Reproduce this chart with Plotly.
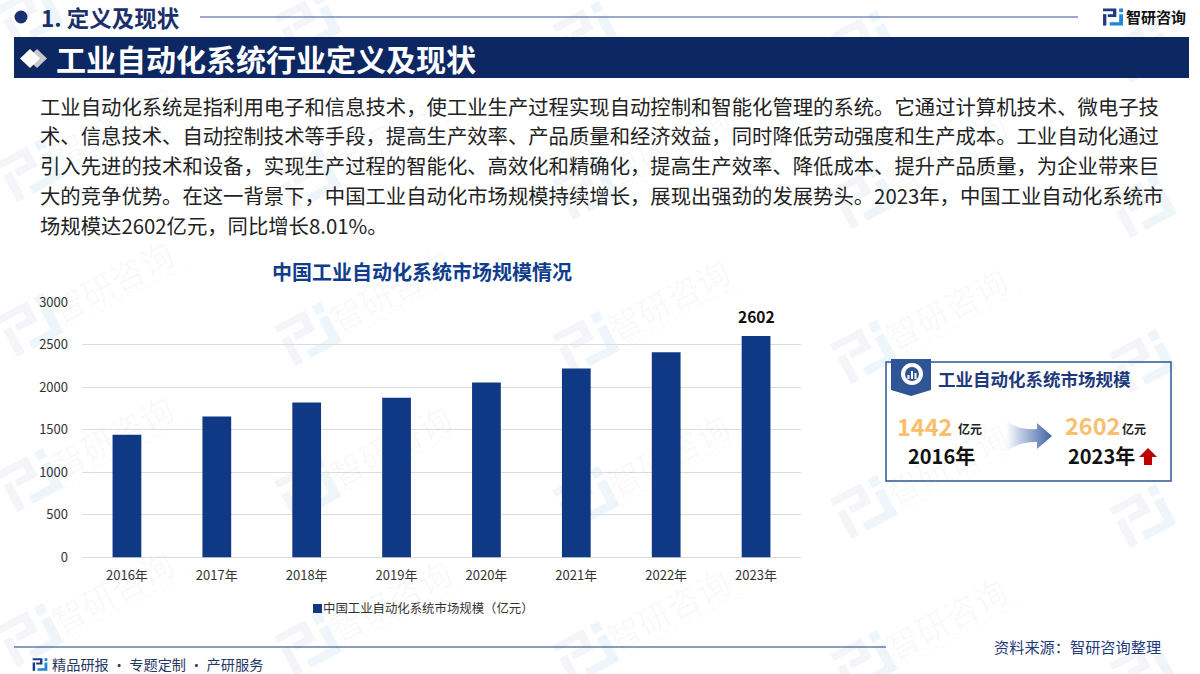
import base64, math
import plotly.graph_objects as go

years = ["2016年", "2017年", "2018年", "2019年", "2020年", "2021年", "2022年", "2023年"]
market_size = [1442, 1655, 1820, 1875, 2055, 2220, 2409, 2602]
bar_labels = ["", "", "", "", "", "", "", "2602"]
y_ticks = [0, 500, 1000, 1500, 2000, 2500, 3000]
series_name = "中国工业自动化系统市场规模（亿元）"
chart_title = "中国工业自动化系统市场规模情况"
body_lines = [
    "工业自动化系统是指利用电子和信息技术，使工业生产过程实现自动控制和智能化管理的系统。它通过计算机技术、微电子技",
    "术、信息技术、自动控制技术等手段，提高生产效率、产品质量和经济效益，同时降低劳动强度和生产成本。工业自动化通过",
    "引入先进的技术和设备，实现生产过程的智能化、高效化和精确化，提高生产效率、降低成本、提升产品质量，为企业带来巨",
    "大的竞争优势。在这一背景下，中国工业自动化市场规模持续增长，展现出强劲的发展势头。2023年，中国工业自动化系统市",
    "场规模达2602亿元，同比增长8.01%。",
]
body_y = [106, 135, 165, 195, 225]
body_size = 20.35

W, H = 1200, 674
FONT = "Noto Sans CJK SC"
BAR = "#0F3885"
BLUE = "#2F5597"

def px(x):
    return x / W

def py(y):
    return 1 - y / H

shapes = []
annotations = []

def poly(points, fill, layer="below"):
    d = "M" + " L".join(f"{px(x):.5f},{py(y):.5f}" for x, y in points) + " Z"
    shapes.append(dict(type="path", xref="paper", yref="paper", path=d, fillcolor=fill,
                       line=dict(width=0), layer=layer))

def rect(x0, y0, x1, y1, fill=None, line=None, lw=0, layer="below"):
    shapes.append(dict(type="rect", xref="paper", yref="paper", x0=px(x0), x1=px(x1),
                       y0=py(y0), y1=py(y1), fillcolor=fill or "rgba(0,0,0,0)",
                       line=dict(color=line or "rgba(0,0,0,0)", width=lw), layer=layer))

def hline(x0, x1, y, color, lw):
    shapes.append(dict(type="line", xref="paper", yref="paper", x0=px(x0), x1=px(x1),
                       y0=py(y), y1=py(y), line=dict(color=color, width=lw), layer="below"))

def circle(cx, cy, r, fill, layer="below"):
    shapes.append(dict(type="circle", xref="paper", yref="paper", x0=px(cx - r), x1=px(cx + r),
                       y0=py(cy - r), y1=py(cy + r), fillcolor=fill, line=dict(width=0), layer=layer))

def text(x, y, s, size, color, bold=False, anchor="center", angle=0):
    if anchor == "left":
        x -= 3  # annotation box padding
    annotations.append(dict(xref="paper", yref="paper", x=px(x), y=py(y), text=f"<b>{s}</b>" if bold else s,
                            showarrow=False, xanchor=anchor, yanchor="middle", textangle=angle,
                            font=dict(family=FONT, size=size, color=color)))

# brand mark, local coordinates roughly 22 x 18 units
DARK_PARTS = [
    [(0, 0), (14, 0), (14, 9), (5, 9), (5, 6), (10.5, 6), (10.5, 3), (0, 3)],
    [(0, 6), (3.5, 6), (3.5, 18), (0, 18)],
]
LIGHT_PARTS = [
    [(17, 0), (21, 0), (21, 4), (17, 4)],
    [(17, 6), (21, 6), (21, 18), (7, 18), (7, 14.5), (17, 14.5)],
]

def brand(cx, cy, scale, dark, light, angle=0.0):
    a = math.radians(angle)
    def tr(p):
        x, y = (p[0] - 10.5) * scale, (p[1] - 9) * scale
        return cx + x * math.cos(a) + y * math.sin(a), cy - x * math.sin(a) + y * math.cos(a)
    for part in DARK_PARTS:
        poly([tr(p) for p in part], dark)
    for part in LIGHT_PARTS:
        poly([tr(p) for p in part], light)

# watermark grid
for col, x in enumerate([30, 308, 586, 864, 1143]):
    for row, y in enumerate([15, 170, 325, 480, 635]):
        ly = y + col * 9
        brand(x, ly, 2.5, "#F3F5F9", "#EEF6FB", 28)
        if 30 < ly - 44 and x + 82 < 1170:
            text(x + 82, ly - 44, "智研咨询", 33, "rgba(60,70,90,0.04)", angle=-28)
            text(x + 93, ly - 27, "INTELLIGENCE RESEARCH GROUP", 9.5, "rgba(60,70,90,0.04)", angle=-28)

# header
circle(21, 17, 6.5, "#1B2F73")
text(42, 17, "1. 定义及现状", 22.5, "#1B2F6B", bold=True, anchor="left")
hline(200, 1078, 17, "#3A5595", 1.2)
brand(1113, 17, 0.95, "#1F3A82", "#1E88D6")
text(1127, 16, "智研咨询", 15, "#111111", bold=True, anchor="left")

# banner
rect(14, 37, 1189, 78, fill="#0D2763")
poly([(37, 49), (47, 58.5), (37, 68), (27, 58.5)], "#C9C9C9")
poly([(30, 49), (40, 58.5), (30, 68), (20, 58.5)], "#FFFFFF")
text(57, 58, "工业自动化系统行业定义及现状", 30, "#FFFFFF", bold=True, anchor="left")

# body copy
for line, y in zip(body_lines, body_y):
    text(41, y, line, body_size, "#222222", anchor="left")

# chart title and legend
text(422, 271, chart_title, 20, "#0F3D8C", bold=True)
rect(313, 604, 322, 613, fill=BAR)
text(324, 608, series_name, 12.4, "#333333", anchor="left")

# summary card
rect(886, 362, 1171, 481, line=BLUE, lw=1.5)
poly([(891, 359), (931, 359), (931, 390), (911, 396), (891, 390)], BLUE)
circle(912, 374, 11, "#FFFFFF")
circle(912, 374, 7, BLUE)
rect(907.5, 375, 909.5, 379, fill="#FFFFFF")
rect(911, 371, 913, 379, fill="#FFFFFF")
rect(914.5, 373, 916.5, 379, fill="#FFFFFF")
text(939, 378, "工业自动化系统市场规模", 17.5, "#1F3A7A", bold=True, anchor="left")
text(898, 426, "1442", 23.5, "#F9BE6E", bold=True, anchor="left")
text(959, 428, "亿元", 12, "#222222", bold=True, anchor="left")
text(909, 455, "2016年", 20, "#111111", bold=True, anchor="left")
text(1066, 425, "2602", 23.5, "#F9BE6E", bold=True, anchor="left")
text(1123, 428, "亿元", 12, "#222222", bold=True, anchor="left")
text(1069, 455, "2023年", 20, "#111111", bold=True, anchor="left")
poly([(1148, 448), (1157, 457), (1152, 457), (1152, 465), (1144, 465), (1144, 457), (1139, 457)], "#C00000")

# footer
hline(14, 886, 647, "#1F3A7A", 1.2)
brand(40, 664.5, 0.7, "#1F3A82", "#1E88D6")
text(53, 664, "精品研报 · 专题定制 · 产研服务", 14.2, "#1F3864", anchor="left")
text(995, 646, "资料来源：智研咨询整理", 15.2, "#1F3A7A", anchor="left")

# data labels, anchored on the value scale
for yr, val, lab in zip(years, market_size, bar_labels):
    if lab:
        annotations.append(dict(xref="x", yref="y", x=yr, y=val, text=f"<b>{lab}</b>", showarrow=False,
                                yanchor="bottom", yshift=7,
                                font=dict(family=FONT, size=15.5, color="#111111")))

# gradient arrow as a vector picture
arrow_svg = (
    '<svg xmlns="http://www.w3.org/2000/svg" width="47" height="32" viewBox="0 0 47 32">'
    '<defs><linearGradient id="g" x1="0" x2="1" y1="0" y2="0">'
    '<stop offset="0" stop-color="#FFFFFF"/><stop offset="0.35" stop-color="#B9C7E0"/>'
    '<stop offset="1" stop-color="#3E62A3"/></linearGradient></defs>'
    '<path d="M0,1 C12,9 22,10 31,9 L31,3 L46,16 L31,29 L31,22 C22,22 12,23 0,31 Z" fill="url(#g)"/></svg>'
)
images = [dict(source="data:image/svg+xml;base64," + base64.b64encode(arrow_svg.encode()).decode(),
               xref="paper", yref="paper", x=px(1006), y=py(420), sizex=47 / W, sizey=32 / H,
               xanchor="left", yanchor="top", sizing="stretch", layer="below")]

fig = go.Figure(go.Bar(
    x=years, y=market_size, name=series_name, marker=dict(color=BAR, line=dict(width=0)),
    width=0.32,
))
fig.update_layout(
    width=W, height=H, margin=dict(l=0, r=0, t=0, b=0, autoexpand=False), paper_bgcolor="white",
    plot_bgcolor="rgba(0,0,0,0)",
    showlegend=False, shapes=shapes, annotations=annotations, images=images,
    font=dict(family=FONT, size=12, color="#333333"), bargap=0.68,
    xaxis=dict(domain=[px(82), px(801)], showgrid=False, ticks="", showline=False, zeroline=False,
               tickfont=dict(size=13, color="#333333"), ticklabelstandoff=8),
    yaxis=dict(domain=[py(557.5), py(302)], range=[0, 3000], tickvals=y_ticks, showgrid=True,
               gridcolor="#DCDCDC", gridwidth=1.3, zeroline=True, zerolinecolor="#DCDCDC", zerolinewidth=1.3,
               tickfont=dict(size=13, color="#333333"), ticks="", ticklabelstandoff=13, showline=False),
)
fig.write_html("out.html", config=dict(displayModeBar=False),
               post_script="document.body.style.margin='0';document.documentElement.style.overflow='hidden';")
